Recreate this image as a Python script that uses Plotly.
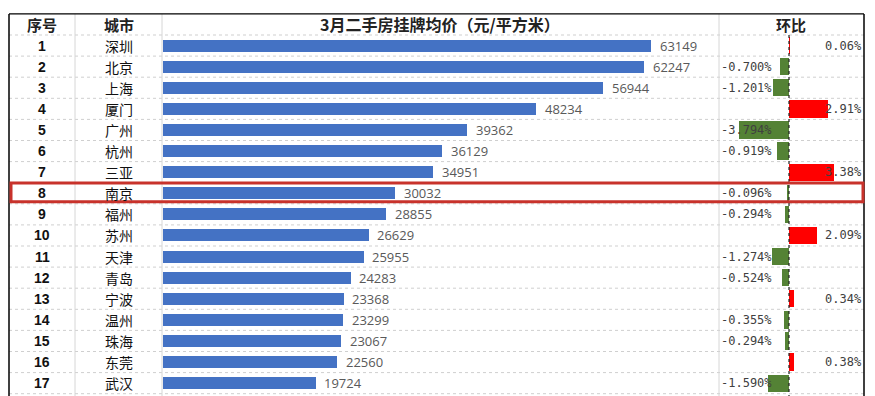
import plotly.graph_objects as go

# ---- data ----
ranks = list(range(1, 18))
cities = ["深圳", "北京", "上海", "厦门", "广州", "杭州", "三亚", "南京", "福州",
          "苏州", "天津", "青岛", "宁波", "温州", "珠海", "东莞", "武汉"]
prices = [63149, 62247, 56944, 48234, 39362, 36129, 34951, 30032, 28855,
          26629, 25955, 24283, 23368, 23299, 23067, 22560, 19724]
mom = [0.06, -0.700, -1.201, 2.91, -3.794, -0.919, 3.38, -0.096, -0.294,
       2.09, -1.274, -0.524, 0.34, -0.355, -0.294, 0.38, -1.590]
headers = ["序号", "城市", "3月二手房挂牌均价（元/平方米）", "环比"]
highlight_city = "南京"

W, H = 875, 396
def px(x):
    return x / W

CJK = "Noto Sans CJK SC"
BLUE = "#4472C4"
GREEN = "#548235"
RED = "#FF0000"

fig = go.Figure()

fig.add_trace(go.Bar(
    x=prices, y=ranks, orientation="h", width=0.57,
    marker=dict(color=BLUE, line=dict(width=0)),
    xaxis="x", yaxis="y", hoverinfo="skip", showlegend=False,
))
fig.add_trace(go.Bar(
    x=mom, y=ranks, orientation="h", width=0.82,
    marker=dict(color=[RED if v > 0 else GREEN for v in mom], line=dict(width=0)),
    xaxis="x2", yaxis="y", hoverinfo="skip", showlegend=False,
))

ann = []
# header row
hdr_x = [px(42), px(118.5), px(440), px(791)]
for t, xx in zip(headers, hdr_x):
    ann.append(dict(x=xx, y=0, xref="paper", yref="y", text=f"<b>{t}</b>",
                    showarrow=False, xanchor="center", yanchor="middle",
                    font=dict(family=CJK, size=15 if len(t) < 5 else 16, color="#222")))
for r, c, p, v in zip(ranks, cities, prices, mom):
    ann.append(dict(x=px(42), y=r, xref="paper", yref="y", text=f"<b>{r}</b>",
                    showarrow=False, xanchor="center", yanchor="middle",
                    font=dict(family="Liberation Sans", size=14, color="#111")))
    ann.append(dict(x=px(118.5), y=r, xref="paper", yref="y", text=c,
                    showarrow=False, xanchor="center", yanchor="middle",
                    font=dict(family=CJK, size=14, color="#111")))
    ann.append(dict(x=p, y=r, xref="x", yref="y", text=str(p), showarrow=False,
                    xanchor="left", yanchor="middle", xshift=7,
                    font=dict(family="Open Sans", size=13, color="#595959")))
    if v > 0:
        ann.append(dict(x=1, y=r, xref="x2 domain", yref="y", text=f"{v:.2f}%",
                        showarrow=False, xanchor="right", yanchor="middle",
                        font=dict(family="DejaVu Sans Mono", size=12, color="#404040")))
    else:
        ann.append(dict(x=0, y=r, xref="x2 domain", yref="y", text=f"{v:.3f}%",
                        showarrow=False, xanchor="left", yanchor="middle",
                        font=dict(family="DejaVu Sans Mono", size=12, color="#404040")))

shapes = []
last = ranks[-1]
# horizontal dotted grid lines
for k in range(0, last + 1):
    shapes.append(dict(type="line", xref="paper", yref="y", x0=px(9), x1=px(864),
                       y0=k + 0.5, y1=k + 0.5, line=dict(color="#cfcfcf", width=1, dash="dot"),
                       layer="below"))
# vertical column separators
for xx in [75, 162, 719]:
    shapes.append(dict(type="line", xref="paper", yref="y", x0=px(xx), x1=px(xx),
                       y0=-0.5, y1=17.7, line=dict(color="#d6d6d6", width=1), layer="below"))
# outer border
shapes.append(dict(type="line", xref="paper", yref="y", x0=px(9), x1=px(864),
                   y0=-0.5, y1=-0.5, line=dict(color="#000", width=1.2)))
for xx in [9, 864]:
    shapes.append(dict(type="line", xref="paper", yref="y", x0=px(xx), x1=px(xx),
                       y0=-0.5, y1=17.7, line=dict(color="#000", width=1.5)))
# zero line of the change column
shapes.append(dict(type="line", xref="x2", yref="y", x0=0, x1=0, y0=0.5, y1=17.7,
                   line=dict(color="#222", width=1.2, dash="dot")))
# highlight box
hi = ranks[cities.index(highlight_city)]
shapes.append(dict(type="rect", xref="paper", yref="y", x0=px(11), x1=px(863),
                   y0=hi - 0.49, y1=hi + 0.4, line=dict(color="#C8322B", width=3),
                   fillcolor="rgba(0,0,0,0)"))

fig.update_layout(
    width=W, height=H, margin=dict(l=0, r=0, t=0, b=0),
    paper_bgcolor="white", plot_bgcolor="rgba(0,0,0,0)",
    xaxis=dict(domain=[px(162.5), px(719)], range=[0, 71950], visible=False, fixedrange=True),
    xaxis2=dict(domain=[px(719), px(864)], range=[-70 / 13.3, 75 / 13.3], visible=False,
                fixedrange=True, anchor="y"),
    yaxis=dict(domain=[0, 1], range=[17.609, -1.159], visible=False, fixedrange=True),
    annotations=ann, shapes=shapes, bargap=0,
)

fig.write_html("out.html", config={"displayModeBar": False},
               post_script="document.body.style.margin='0';document.body.style.overflow='hidden';")
